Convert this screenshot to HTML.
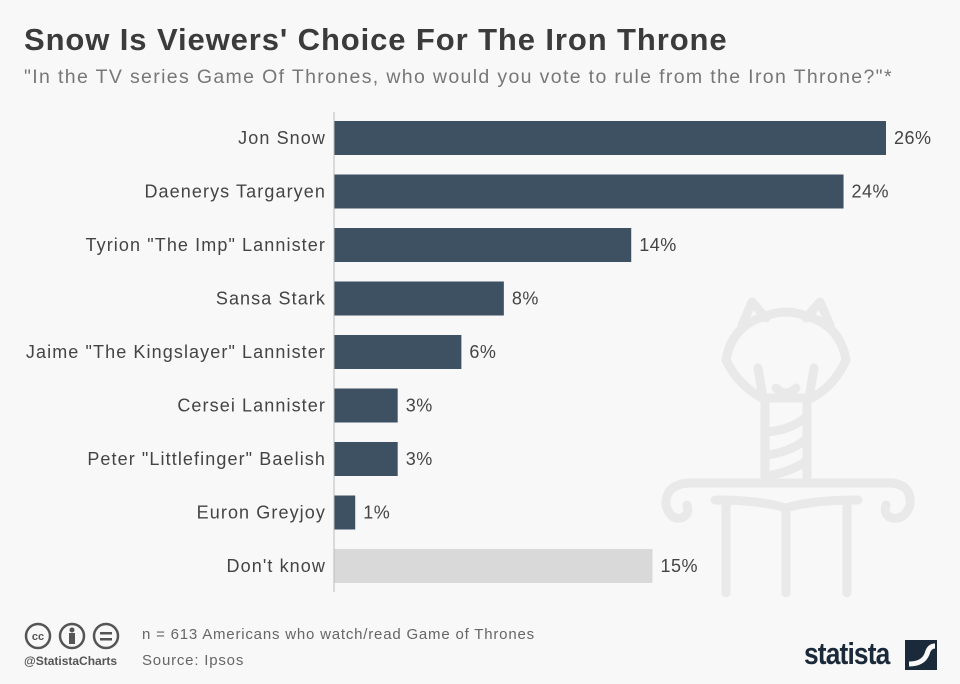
<!DOCTYPE html>
<html><head><meta charset="utf-8"><style>
body{margin:0;width:960px;height:684px;background:#f8f8f8;font-family:"Liberation Sans",sans-serif;overflow:hidden;position:relative}
.t{position:absolute;white-space:nowrap}
</style></head><body>
<div class="t" style="left:24px;top:22px;font-size:31px;font-weight:bold;color:#3b3b3b;letter-spacing:0.9px">Snow Is Viewers' Choice For The Iron Throne</div>
<div class="t" style="left:24px;top:66px;font-size:19.5px;color:#777;letter-spacing:1.35px">"In the TV series Game Of Thrones, who would you vote to rule from the Iron Throne?"*</div>
<svg width="960" height="684" style="position:absolute;left:0;top:0" id="chart">
<g fill="none" stroke="#e9e9e9" stroke-width="9" stroke-linecap="round" stroke-linejoin="round">
<path d="M742,325 L752,302 L766,318 M806,318 L820,302 L830,325"/>
<path d="M766,316 Q786,308 806,316 Q840,325 846,360 Q835,385 812,398 L762,398 Q738,385 726,360 Q732,325 766,316 Z"/>
<path d="M758,368 L763,398 M814,368 L809,398"/>
<path d="M776,388 Q786,398 796,388"/>
<path d="M765,400 L765,478 M807,400 L807,478 M767,432 Q790,430 805,418 M767,455 Q790,452 805,440 M767,476 Q790,472 805,462"/>
<path d="M688,483 L892,483 Q912,485 910,505 Q905,520 892,518 Q883,515 886,505 M688,483 Q665,485 666,505 Q670,520 681,518 Q690,515 687,505"/>
<path d="M715,500 Q760,500 786,508 Q812,500 858,500 M726,502 L726,593 M786,510 L786,593 M847,502 L847,593"/>
</g>
</svg>
<div class="t" style="left:142px;top:626px;font-size:15px;color:#666;letter-spacing:0.8px">n = 613 Americans who watch/read Game of Thrones</div>
<div class="t" style="left:142px;top:652px;font-size:15px;color:#666;letter-spacing:0.8px">Source: Ipsos</div>
<div class="t" style="left:24px;top:654px;font-size:12px;font-weight:bold;color:#555">@StatistaCharts</div>
<svg width="100" height="30" style="position:absolute;left:24px;top:622px">
<g fill="none" stroke="#555" stroke-width="2.5"><circle cx="14" cy="14" r="12"/><circle cx="48" cy="14" r="12"/><circle cx="82" cy="14" r="12"/></g>
<text x="14" y="18" font-size="11" font-weight="bold" text-anchor="middle" fill="#555" font-family="Liberation Sans">cc</text>
<circle cx="48" cy="8" r="2.5" fill="#555"/><rect x="45" y="11" width="6" height="11" fill="#555"/>
<rect x="76" y="10" width="12" height="2.5" fill="#555"/><rect x="76" y="16" width="12" height="2.5" fill="#555"/>
</svg>
<div class="t" style="left:804px;top:636px;font-size:31px;font-weight:bold;color:#1b2a3a;letter-spacing:-1px;transform:scaleX(0.85);transform-origin:left">statista</div>
<svg width="32" height="30" style="position:absolute;left:905px;top:640px"><rect width="32" height="30" fill="#1b2a3a"/><path d="M4,24 Q18,24 22,14 Q24,6 30,6" stroke="#f8f8f8" stroke-width="5" fill="none"/></svg>
<script>
const categories=["Jon Snow","Daenerys Targaryen","Tyrion \"The Imp\" Lannister","Sansa Stark","Jaime \"The Kingslayer\" Lannister","Cersei Lannister","Peter \"Littlefinger\" Baelish","Euron Greyjoy","Don't know"];
const values=[26,24,14,8,6,3,3,1,15];
const labels=["26%","24%","14%","8%","6%","3%","3%","1%","15%"];
const svg=document.getElementById('chart');
const NS='http://www.w3.org/2000/svg';
const x0=334,pxPer=552/26;
function xs(v){return x0+v*pxPer;}
function yc(i){return 138+i*53.5;}
const bh=34;
categories.forEach((c,i)=>{
  const r=document.createElementNS(NS,'rect');
  r.setAttribute('x',x0);r.setAttribute('y',yc(i)-bh/2);
  r.setAttribute('width',xs(values[i])-x0);r.setAttribute('height',bh);
  r.setAttribute('fill',i===8?'#d9d9d9':'#3e5163');
  
  
  svg.appendChild(r);
  const t=document.createElementNS(NS,'text');
  t.setAttribute('x',326);t.setAttribute('y',yc(i)+6);t.setAttribute('text-anchor','end');
  t.setAttribute('font-size','18');t.setAttribute('fill','#444');t.setAttribute('font-family','Liberation Sans');
  t.setAttribute('letter-spacing','1.1');
  t.textContent=c;
  
  
  svg.appendChild(t);
  const v=document.createElementNS(NS,'text');
  v.setAttribute('x',xs(values[i])+8);v.setAttribute('y',yc(i)+6);
  v.setAttribute('font-size','18');v.setAttribute('fill','#444');v.setAttribute('font-family','Liberation Sans');
  v.setAttribute('letter-spacing','0.5');
  v.textContent=labels[i];
  
  
  svg.appendChild(v);
});
const ax=document.createElementNS(NS,'line');
ax.setAttribute('x1',x0);ax.setAttribute('x2',x0);ax.setAttribute('y1',112);ax.setAttribute('y2',592);
ax.setAttribute('stroke','#bbb');ax.setAttribute('stroke-width','1');


svg.appendChild(ax);
</script>
</body></html>
